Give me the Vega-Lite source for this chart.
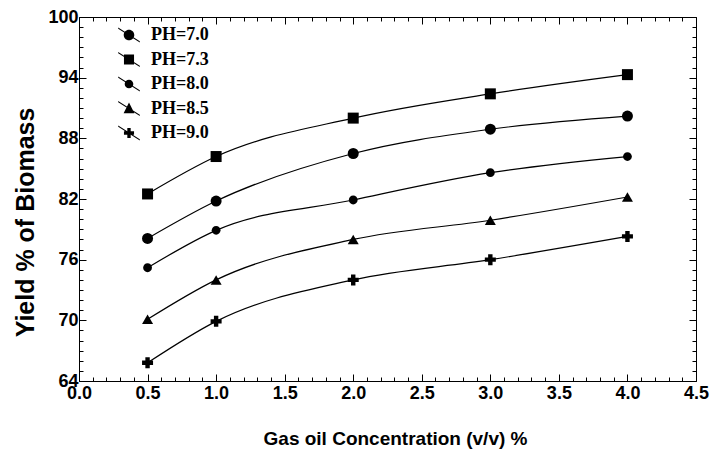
{
  "$schema": "https://vega.github.io/schema/vega-lite/v6.json",
  "autosize": {"type": "none"},
  "padding": {"left": 79, "top": 17, "right": 14, "bottom": 73},
  "width": 617,
  "height": 364,
  "background": "white",
  "config": {
    "view": {"stroke": null},
    "axis": {"grid": false, "domainColor": "black", "domainWidth": 1, "tickColor": "black", "tickWidth": 1, "labelColor": "black", "titleColor": "black"}
  },
  "data": {
    "values": [
      {"x": 0.5, "ph": "PH=7.0", "y": 78.1}, {"x": 1.0, "ph": "PH=7.0", "y": 81.8}, {"x": 2.0, "ph": "PH=7.0", "y": 86.5}, {"x": 3.0, "ph": "PH=7.0", "y": 88.9}, {"x": 4.0, "ph": "PH=7.0", "y": 90.2},
      {"x": 0.5, "ph": "PH=7.3", "y": 82.5}, {"x": 1.0, "ph": "PH=7.3", "y": 86.2}, {"x": 2.0, "ph": "PH=7.3", "y": 90.0}, {"x": 3.0, "ph": "PH=7.3", "y": 92.4}, {"x": 4.0, "ph": "PH=7.3", "y": 94.3},
      {"x": 0.5, "ph": "PH=8.0", "y": 75.2}, {"x": 1.0, "ph": "PH=8.0", "y": 78.9}, {"x": 2.0, "ph": "PH=8.0", "y": 81.9}, {"x": 3.0, "ph": "PH=8.0", "y": 84.6}, {"x": 4.0, "ph": "PH=8.0", "y": 86.2},
      {"x": 0.5, "ph": "PH=8.5", "y": 70.1}, {"x": 1.0, "ph": "PH=8.5", "y": 74.0}, {"x": 2.0, "ph": "PH=8.5", "y": 78.0}, {"x": 3.0, "ph": "PH=8.5", "y": 79.9}, {"x": 4.0, "ph": "PH=8.5", "y": 82.2},
      {"x": 0.5, "ph": "PH=9.0", "y": 65.8}, {"x": 1.0, "ph": "PH=9.0", "y": 69.9}, {"x": 2.0, "ph": "PH=9.0", "y": 74.0}, {"x": 3.0, "ph": "PH=9.0", "y": 76.0}, {"x": 4.0, "ph": "PH=9.0", "y": 78.3}
    ]
  },
  "resolve": {"axis": {"x": "independent", "y": "independent"}, "scale": {"shape": "independent"}, "legend": {"shape": "independent"}},
  "layer": [
    {
      "mark": {"type": "line", "color": "black", "strokeWidth": 1.2, "interpolate": "monotone"},
      "encoding": {
        "x": {
          "field": "x", "type": "quantitative",
          "scale": {"domain": [0, 4.5], "nice": false, "zero": false},
          "axis": {
            "orient": "bottom",
            "values": [0,0.1,0.2,0.3,0.4,0.5,0.6,0.7,0.8,0.9,1,1.1,1.2,1.3,1.4,1.5,1.6,1.7,1.8,1.9,2,2.1,2.2,2.3,2.4,2.5,2.6,2.7,2.8,2.9,3,3.1,3.2,3.3,3.4,3.5,3.6,3.7,3.8,3.9,4,4.1,4.2,4.3,4.4,4.5],
            "tickSize": {"condition": {"test": "abs(datum.value*2 - round(datum.value*2)) < 0.001", "value": -7}, "value": -4},
            "labelExpr": "abs(datum.value*2 - round(datum.value*2)) < 0.001 ? format(datum.value, '.1f') : ''",
            "labelOverlap": false, "labelFlush": false,
            "labelFont": "Liberation Sans", "labelFontWeight": "bold", "labelFontSize": 18, "labelPadding": 10,
            "title": "Gas oil Concentration (v/v) %",
            "titleFont": "Liberation Sans", "titleFontWeight": "bold", "titleFontSize": 19,
            "titleX": 316, "titleY": 57, "titleBaseline": "middle"
          }
        },
        "y": {
          "field": "y", "type": "quantitative",
          "scale": {"domain": [64, 100], "nice": false, "zero": false},
          "axis": {
            "orient": "left",
            "values": [64,65,66,67,68,69,70,71,72,73,74,75,76,77,78,79,80,81,82,83,84,85,86,87,88,89,90,91,92,93,94,95,96,97,98,99,100],
            "tickSize": {"condition": {"test": "(datum.value - 64) % 6 == 0", "value": -7}, "value": -4},
            "labelExpr": "(datum.value - 64) % 6 == 0 ? datum.label : ''",
            "labelOverlap": false, "labelFlush": false,
            "labelFont": "Liberation Sans", "labelFontWeight": "bold", "labelFontSize": 18, "labelPadding": 8,
            "title": "Yield % of Biomass",
            "titleFont": "Liberation Sans", "titleFontWeight": "bold", "titleFontSize": 25,
            "titleX": -54, "titleY": 205, "titleBaseline": "middle"
          }
        },
        "detail": {"field": "ph", "type": "nominal"}
      }
    },
    {
      "mark": {"type": "point", "filled": true, "color": "black", "opacity": 1, "size": 121},
      "encoding": {
        "x": {
          "field": "x", "type": "quantitative",
          "axis": {
            "orient": "top",
            "values": [0,0.1,0.2,0.3,0.4,0.5,0.6,0.7,0.8,0.9,1,1.1,1.2,1.3,1.4,1.5,1.6,1.7,1.8,1.9,2,2.1,2.2,2.3,2.4,2.5,2.6,2.7,2.8,2.9,3,3.1,3.2,3.3,3.4,3.5,3.6,3.7,3.8,3.9,4,4.1,4.2,4.3,4.4,4.5],
            "tickSize": {"condition": {"test": "abs(datum.value*2 - round(datum.value*2)) < 0.001", "value": -7}, "value": -4},
            "labels": false, "title": null
          }
        },
        "y": {
          "field": "y", "type": "quantitative",
          "axis": {
            "orient": "right",
            "values": [64,65,66,67,68,69,70,71,72,73,74,75,76,77,78,79,80,81,82,83,84,85,86,87,88,89,90,91,92,93,94,95,96,97,98,99,100],
            "tickSize": {"condition": {"test": "(datum.value - 64) % 6 == 0", "value": -7}, "value": -4},
            "labels": false, "title": null
          }
        },
        "shape": {
          "field": "ph", "type": "nominal",
          "scale": {"range": ["circle", "square", "M0.8,0A0.8,0.8,0,1,1,-0.8,0A0.8,0.8,0,1,1,0.8,0Z", "triangle-up", "cross"]},
          "legend": null
        }
      }
    },
    {
      "transform": [{"filter": "datum.x > 100"}],
      "mark": {"type": "point", "filled": true, "color": "black", "opacity": 1, "size": 576},
      "encoding": {
        "x": {"field": "x", "type": "quantitative", "axis": null},
        "y": {"field": "y", "type": "quantitative", "axis": null},
        "shape": {
          "field": "ph", "type": "nominal",
          "scale": {
            "domain": ["PH=7.0", "PH=7.3", "PH=8.0", "PH=8.5", "PH=9.0"],
            "range": [
              "M-0.9,-0.63L0.9,0.53L0.9,0.63L-0.9,-0.53ZM0.44,0A0.44,0.44,0,1,1,-0.44,0A0.44,0.44,0,1,1,0.44,0Z",
              "M-0.9,-0.63L0.9,0.53L0.9,0.63L-0.9,-0.53ZM-0.42,-0.42h0.84v0.84h-0.84Z",
              "M-0.9,-0.63L0.9,0.53L0.9,0.63L-0.9,-0.53ZM0.36,0A0.36,0.36,0,1,1,-0.36,0A0.36,0.36,0,1,1,0.36,0Z",
              "M-0.9,-0.63L0.9,0.53L0.9,0.63L-0.9,-0.53ZM0,-0.5L0.45,0.4L-0.45,0.4Z",
              "M-0.9,-0.63L0.9,0.53L0.9,0.63L-0.9,-0.53ZM-0.14,-0.42h0.28v0.28h0.28v0.28h-0.28v0.28h-0.28v-0.28h-0.28v-0.28h0.28Z"
            ]
          },
          "legend": {
            "orient": "none", "legendX": 37, "legendY": 5, "title": null, "padding": 0,
            "rowPadding": 0.5, "symbolSize": 576, "labelOffset": 9,
            "labelFont": "Liberation Serif", "labelFontWeight": "bold", "labelFontSize": 18, "labelColor": "black",
            "symbolFillColor": "black", "symbolOpacity": 1
          }
        }
      }
    }
  ]
}
